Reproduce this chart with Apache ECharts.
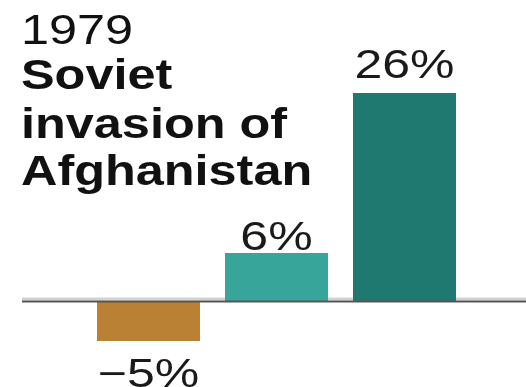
<!DOCTYPE html>
<html>
<head>
<meta charset="utf-8">
<style>
  html, body { margin: 0; padding: 0; background: #ffffff; }
  #chart { width: 526px; height: 387px; }
</style>
<script src="https://cdn.jsdelivr.net/npm/echarts@6/dist/echarts.min.js"></script>
</head>
<body>
<div id="chart"></div>
<script>
// Market reaction around the event, one bar per group
const categories = ['A', 'B', 'C'];
const values = [-5, 6, 26];

// Headline text
const titleYear = '1979';
const titleLines = ['Soviet', 'invasion of', 'Afghanistan'];

// Styling
const barColors = ['#BA8033', '#38A59A', '#1F7970'];
const labelGaps = [35, 14, 26];
const titleRowsY = [32, 77, 126, 173];
const titleFont = '"Liberation Sans", Arial, Helvetica, sans-serif';

function formatPct(v) {
  return (v < 0 ? '\u2212' + Math.abs(v) : String(v)) + '%';
}

const chart = echarts.init(document.getElementById('chart'), null, { renderer: 'canvas' });

const titleGraphics = [
  {
    type: 'text', x: 21, y: titleRowsY[0], scaleX: 1.2, z: 20,
    style: { text: titleYear, font: '42px ' + titleFont, fill: '#111', verticalAlign: 'middle' }
  }
].concat(titleLines.map((line, i) => ({
  type: 'text', x: 21, y: titleRowsY[i + 1], scaleX: 1.2, z: 20,
  style: { text: line, font: 'bold 42px ' + titleFont, fill: '#111', verticalAlign: 'middle' }
})));

chart.setOption({
  animation: false,
  grid: { left: 84.5, right: 57.5, top: 61, bottom: 6 },
  xAxis: { type: 'category', data: categories, show: false },
  yAxis: { type: 'value', min: -10, max: 30, show: false, splitLine: { show: false } },
  series: [
    {
      type: 'bar',
      barWidth: 103,
      z: 2,
      data: values.map((v, i) => ({ value: v, itemStyle: { color: barColors[i] } }))
    },
    {
      type: 'custom',
      z: 5,
      encode: { x: 0, y: 1 },
      data: values.map((v, i) => [i, v]),
      renderItem: function (params, api) {
        const v = api.value(1);
        const p = api.coord([api.value(0), v]);
        const gap = labelGaps[params.dataIndex];
        return {
          type: 'text',
          x: p[0],
          y: v >= 0 ? p[1] - gap : p[1] + gap,
          scaleX: 1.25,
          style: {
            text: formatPct(v),
            font: '40px ' + titleFont,
            fill: '#1a1a1a',
            align: 'center',
            verticalAlign: 'middle'
          }
        };
      }
    }
  ],
  graphic: titleGraphics
});

// Zero baseline across the full width, placed from the value axis
const y0 = chart.convertToPixel({ yAxisIndex: 0 }, 0);
chart.setOption({
  graphic: titleGraphics.concat([
    { type: 'rect', z: 1, shape: { x: 22, y: y0 - 3.5, width: 504, height: 3 }, style: { fill: '#d2d2d2' } },
    { type: 'rect', z: 10, shape: { x: 22, y: y0 - 0.5, width: 504, height: 2 }, style: { fill: '#555555' } }
  ])
});
</script>
</body>
</html>
